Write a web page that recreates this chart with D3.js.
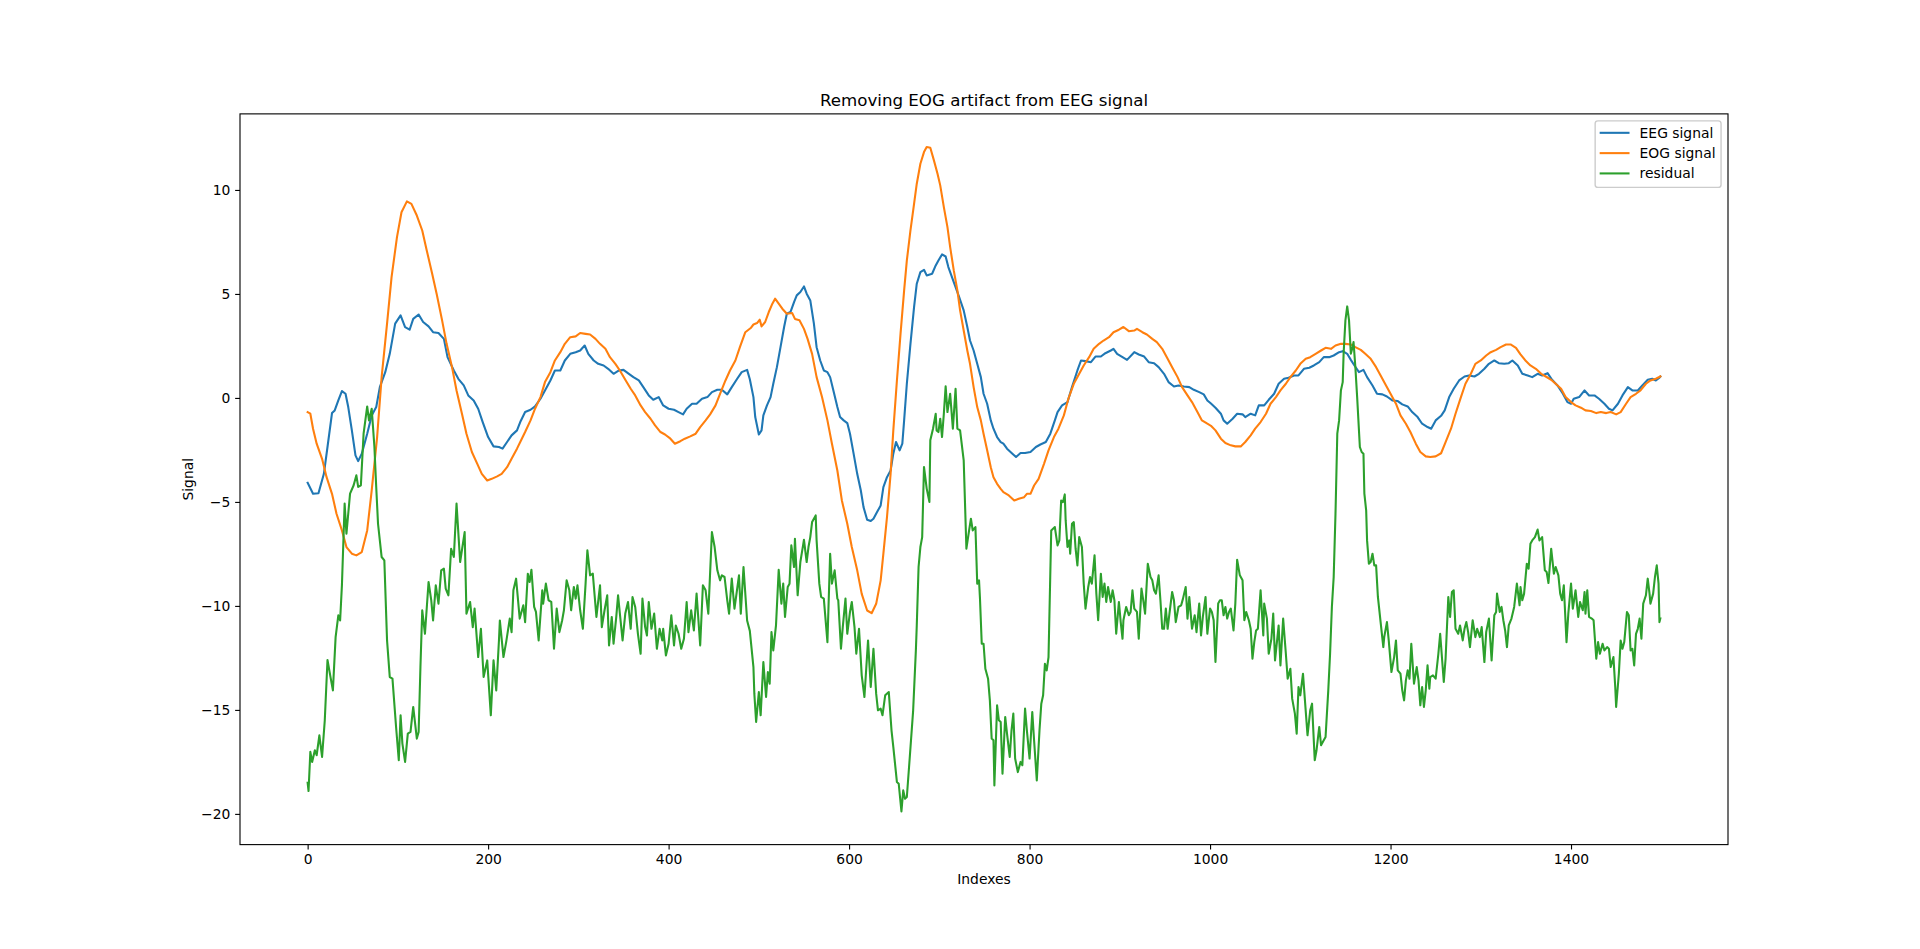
<!DOCTYPE html>
<html>
<head>
<meta charset="utf-8">
<script src="https://cdn.jsdelivr.net/npm/d3@7"></script>
<style>
  html, body { margin: 0; padding: 0; background: #ffffff; }
  svg { display: block; }
  text { font-family: "DejaVu Sans", sans-serif; fill: #000; }
</style>
</head>
<body>
<svg id="chart" width="1920" height="949"></svg>
<script>
// ---------------- data ----------------
const chartTitle = "Removing EOG artifact from EEG signal";
const xLabel = "Indexes";
const yLabel = "Signal";
const seriesNames = ["EEG signal", "EOG signal", "residual"];
const seriesColors = ["#1f77b4", "#ff7f0e", "#2ca02c"];
const xTicks = [0, 200, 400, 600, 800, 1000, 1200, 1400];
const yTicks = [-20, -15, -10, -5, 0, 5, 10];

// [index, value]
const eegSignal = [[0,-4.08],[6,-4.61],[12,-4.58],[18,-3.65],[22,-2.36],[27,-0.73],[30,-0.6],[34,-0.12],[38,0.33],[42,0.2],[45,-0.44],[49,-1.56],[53,-2.76],[56,-3.04],[60,-2.68],[66,-1.72],[71,-0.84],[76,-0.44],[80,0.52],[86,1.24],[91,2.12],[97,3.57],[103,3.97],[108,3.4],[113,3.28],[117,3.8],[123,4.01],[128,3.65],[134,3.44],[139,3.16],[145,3.12],[151,2.84],[155,1.96],[162,1.32],[167,0.92],[173,0.6],[178,0.12],[184,-0.12],[189,-0.52],[194,-1.16],[200,-1.88],[206,-2.33],[212,-2.36],[216,-2.44],[221,-2.12],[226,-1.8],[232,-1.56],[236,-1.12],[241,-0.68],[247,-0.57],[252,-0.41],[258,-0.04],[263,0.36],[269,0.84],[274,1.32],[280,1.32],[285,1.8],[291,2.12],[297,2.2],[302,2.28],[307,2.52],[311,2.12],[317,1.8],[322,1.64],[328,1.56],[333,1.4],[339,1.16],[345,1.32],[350,1.35],[356,1.16],[361,1.0],[367,0.84],[372,0.52],[378,0.12],[383,-0.09],[389,0.04],[394,-0.36],[400,-0.52],[406,-0.57],[411,-0.68],[416,-0.79],[420,-0.52],[426,-0.28],[431,-0.28],[437,-0.04],[443,0.04],[448,0.28],[454,0.39],[459,0.39],[465,0.17],[470,0.52],[476,0.92],[481,1.24],[487,1.35],[490,0.9],[494,0.04],[496,-0.92],[500,-1.76],[503,-1.56],[505,-0.84],[509,-0.36],[513,0.04],[516,0.68],[520,1.48],[524,2.44],[528,3.41],[531,4.05],[535,4.13],[539,4.61],[542,4.93],[546,5.09],[550,5.36],[553,5.01],[557,4.69],[561,3.57],[564,2.44],[568,1.8],[572,1.32],[576,1.24],[579,1.0],[583,0.28],[587,-0.44],[590,-0.92],[594,-1.08],[598,-1.21],[601,-1.72],[605,-2.68],[609,-3.65],[613,-4.45],[616,-5.25],[620,-5.86],[624,-5.92],[627,-5.81],[631,-5.49],[635,-5.17],[638,-4.29],[642,-3.81],[646,-3.49],[649,-2.68],[652,-2.12],[656,-2.52],[659,-2.2],[661,-1.08],[664,0.68],[668,2.6],[672,4.37],[675,5.49],[679,6.05],[683,6.16],[686,5.89],[692,5.97],[696,6.37],[699,6.61],[703,6.9],[707,6.8],[710,6.29],[714,5.81],[718,5.33],[722,4.85],[727,4.21],[731,3.41],[734,2.76],[738,2.28],[742,1.64],[746,1.0],[749,0.2],[753,-0.28],[757,-1.08],[760,-1.48],[764,-1.88],[768,-2.12],[771,-2.2],[775,-2.44],[781,-2.68],[785,-2.84],[790,-2.65],[795,-2.65],[801,-2.6],[807,-2.36],[812,-2.24],[818,-2.12],[823,-1.72],[828,-1.08],[831,-0.68],[836,-0.36],[842,-0.2],[847,0.52],[853,1.32],[857,1.8],[862,1.77],[868,1.72],[873,1.99],[879,1.99],[884,2.15],[890,2.28],[893,2.36],[897,2.12],[903,1.96],[908,1.83],[916,2.2],[921,2.09],[927,1.99],[932,1.72],[938,1.67],[943,1.48],[949,1.16],[954,0.76],[960,0.55],[965,0.6],[971,0.55],[977,0.52],[982,0.39],[988,0.28],[993,0.17],[997,-0.12],[1001,-0.27],[1006,-0.47],[1012,-0.76],[1015,-1.08],[1019,-1.24],[1025,-1.0],[1030,-0.76],[1036,-0.79],[1039,-0.92],[1045,-0.76],[1050,-0.84],[1054,-0.36],[1060,-0.36],[1065,-0.09],[1071,0.2],[1076,0.68],[1082,0.92],[1087,0.97],[1093,1.08],[1098,1.08],[1104,1.4],[1110,1.45],[1115,1.56],[1121,1.72],[1126,1.96],[1132,1.96],[1137,2.04],[1143,2.2],[1147,2.25],[1152,2.12],[1156,1.83],[1160,1.56],[1165,1.24],[1170,1.35],[1174,1.0],[1180,0.6],[1185,0.2],[1191,0.17],[1196,0.07],[1202,-0.12],[1208,-0.15],[1213,-0.31],[1219,-0.41],[1224,-0.68],[1230,-0.92],[1235,-1.24],[1241,-1.4],[1245,-1.48],[1250,-1.08],[1256,-0.86],[1260,-0.6],[1265,0.04],[1270,0.44],[1276,0.84],[1282,1.03],[1287,1.08],[1293,1.03],[1298,1.16],[1304,1.4],[1309,1.64],[1315,1.8],[1320,1.67],[1326,1.64],[1331,1.67],[1335,1.8],[1341,1.56],[1346,1.16],[1352,1.08],[1357,1.0],[1363,1.16],[1368,1.08],[1374,1.19],[1379,0.87],[1385,0.6],[1391,0.2],[1396,-0.2],[1400,-0.28],[1403,-0.04],[1409,0.04],[1415,0.36],[1420,0.12],[1426,0.12],[1431,-0.04],[1437,-0.28],[1442,-0.52],[1446,-0.6],[1452,-0.28],[1457,0.12],[1463,0.52],[1468,0.36],[1474,0.36],[1479,0.6],[1485,0.87],[1490,0.92],[1494,0.84],[1498,0.97],[1499,1.03]];

const eogSignal = [[0,-0.68],[3,-0.76],[6,-1.48],[10,-2.2],[16,-2.93],[21,-3.81],[27,-4.61],[32,-5.57],[38,-6.37],[43,-7.17],[49,-7.49],[54,-7.57],[60,-7.41],[66,-6.37],[71,-4.45],[77,-1.88],[82,1.0],[88,3.57],[93,5.81],[99,7.73],[104,8.93],[110,9.45],[115,9.33],[121,8.77],[127,8.05],[132,7.09],[138,5.97],[143,5.0],[149,3.73],[154,2.6],[160,1.48],[165,0.36],[171,-0.76],[176,-1.72],[182,-2.6],[188,-3.17],[193,-3.65],[199,-3.97],[204,-3.89],[210,-3.77],[215,-3.65],[221,-3.33],[226,-2.93],[232,-2.44],[236,-2.08],[241,-1.64],[247,-1.08],[252,-0.52],[258,0.04],[263,0.76],[269,1.24],[274,1.8],[280,2.2],[285,2.6],[291,2.92],[297,2.96],[302,3.12],[308,3.08],[313,3.05],[319,2.84],[324,2.6],[330,2.36],[335,1.96],[341,1.64],[346,1.32],[352,0.87],[358,0.44],[363,0.12],[369,-0.36],[374,-0.68],[380,-1.0],[385,-1.32],[391,-1.64],[396,-1.76],[402,-1.96],[407,-2.2],[413,-2.08],[418,-1.96],[424,-1.85],[430,-1.72],[435,-1.4],[441,-1.08],[446,-0.79],[452,-0.36],[457,0.2],[463,0.84],[468,1.32],[474,1.8],[479,2.44],[485,3.16],[491,3.36],[494,3.53],[498,3.6],[501,3.76],[503,3.44],[507,3.65],[511,4.13],[515,4.53],[518,4.77],[522,4.53],[526,4.29],[531,4.05],[537,4.08],[540,3.8],[545,3.73],[550,3.32],[554,2.84],[559,2.12],[564,1.0],[570,0.04],[576,-1.08],[581,-2.2],[587,-3.49],[592,-4.93],[598,-6.05],[603,-7.17],[609,-8.29],[614,-9.42],[620,-10.22],[625,-10.35],[630,-9.9],[635,-8.77],[638,-7.49],[642,-5.73],[646,-3.65],[649,-1.56],[653,0.84],[657,3.08],[661,5.17],[664,6.61],[668,8.05],[672,9.33],[675,10.3],[679,11.26],[683,11.82],[686,12.06],[690,12.03],[694,11.42],[698,10.78],[701,10.22],[705,9.17],[709,8.21],[712,7.25],[716,6.13],[720,5.17],[723,4.21],[727,3.24],[731,2.28],[734,1.64],[738,0.52],[742,-0.44],[746,-1.08],[749,-1.72],[753,-2.52],[757,-3.33],[760,-3.81],[764,-4.13],[768,-4.37],[771,-4.53],[777,-4.69],[783,-4.93],[788,-4.85],[794,-4.77],[797,-4.61],[801,-4.61],[805,-4.21],[810,-3.89],[816,-3.17],[821,-2.52],[827,-1.88],[832,-1.48],[838,-0.84],[843,-0.04],[849,0.68],[855,1.16],[860,1.56],[866,1.96],[871,2.36],[877,2.6],[882,2.76],[888,2.92],[893,3.16],[899,3.28],[904,3.41],[910,3.21],[916,3.24],[919,3.32],[925,3.16],[930,3.05],[936,2.84],[941,2.68],[947,2.36],[953,1.88],[958,1.48],[964,1.0],[969,0.52],[975,0.12],[980,-0.2],[986,-0.68],[991,-1.08],[997,-1.24],[1001,-1.34],[1006,-1.56],[1012,-1.96],[1017,-2.17],[1023,-2.28],[1028,-2.33],[1034,-2.33],[1039,-2.12],[1045,-1.8],[1050,-1.48],[1056,-1.16],[1062,-0.76],[1067,-0.28],[1073,0.04],[1078,0.36],[1084,0.68],[1089,1.0],[1095,1.32],[1100,1.64],[1106,1.88],[1111,1.96],[1117,2.12],[1123,2.28],[1128,2.41],[1134,2.36],[1139,2.52],[1145,2.6],[1150,2.6],[1156,2.57],[1161,2.44],[1167,2.31],[1172,2.12],[1178,1.88],[1184,1.48],[1189,1.08],[1195,0.6],[1200,0.2],[1206,-0.28],[1211,-0.84],[1217,-1.24],[1222,-1.64],[1228,-2.2],[1233,-2.6],[1239,-2.81],[1244,-2.84],[1250,-2.81],[1256,-2.66],[1261,-2.12],[1267,-1.48],[1272,-0.76],[1278,0.04],[1283,0.68],[1289,1.16],[1294,1.64],[1300,1.8],[1306,2.04],[1311,2.2],[1317,2.31],[1322,2.44],[1328,2.57],[1333,2.57],[1339,2.41],[1344,2.09],[1350,1.77],[1355,1.56],[1361,1.4],[1367,1.16],[1372,1.03],[1378,0.87],[1383,0.68],[1389,0.44],[1394,0.04],[1400,-0.2],[1405,-0.36],[1411,-0.47],[1416,-0.6],[1422,-0.63],[1428,-0.73],[1433,-0.68],[1439,-0.73],[1444,-0.68],[1450,-0.79],[1455,-0.68],[1461,-0.28],[1466,0.04],[1472,0.2],[1477,0.36],[1483,0.68],[1488,0.84],[1494,0.92],[1499,1.03]];

const residualSignal = [[0,-18.5],[1,-18.9],[3,-17.02],[5,-17.5],[8,-16.94],[10,-17.18],[13,-16.22],[16,-17.26],[19,-15.5],[22,-12.6],[25,-13.34],[28,-14.06],[31,-11.5],[34,-10.45],[36,-10.7],[38,-9.0],[41,-5.08],[43,-6.53],[47,-4.6],[51,-4.2],[54,-3.72],[56,-4.28],[59,-4.2],[62,-1.72],[66,-0.41],[68,-1.08],[71,-0.52],[74,-2.36],[76,-4.28],[78,-6.05],[82,-7.65],[85,-7.81],[88,-11.66],[91,-13.42],[94,-13.5],[98,-15.82],[101,-17.42],[103,-15.26],[105,-16.62],[108,-17.5],[111,-16.14],[114,-16.06],[117,-14.86],[121,-16.38],[123,-16.06],[125,-12.94],[127,-10.21],[130,-11.34],[134,-8.85],[137,-9.73],[139,-10.7],[142,-9.01],[145,-9.89],[148,-8.29],[151,-8.21],[153,-9.17],[156,-9.49],[159,-7.25],[162,-7.65],[165,-5.08],[169,-7.89],[174,-6.45],[176,-10.37],[180,-9.81],[183,-11.02],[185,-10.13],[189,-12.46],[192,-11.1],[195,-13.42],[199,-12.62],[203,-15.26],[206,-12.62],[209,-14.06],[212,-11.66],[213,-10.7],[217,-12.46],[220,-11.74],[224,-10.61],[226,-11.26],[228,-9.25],[231,-8.69],[235,-10.61],[239,-9.97],[241,-10.78],[244,-8.45],[246,-8.85],[248,-8.26],[251,-10.05],[253,-10.29],[256,-11.66],[260,-9.25],[261,-9.89],[264,-8.93],[267,-9.73],[270,-9.81],[273,-12.06],[276,-10.13],[279,-11.26],[282,-10.7],[284,-10.21],[287,-8.77],[290,-9.25],[292,-10.21],[295,-9.09],[297,-9.65],[299,-9.01],[302,-10.21],[305,-11.1],[308,-8.93],[310,-7.33],[313,-8.53],[316,-8.45],[320,-10.53],[324,-9.01],[326,-11.02],[329,-10.21],[332,-9.49],[334,-11.9],[337,-10.53],[339,-11.82],[342,-10.53],[344,-9.49],[346,-10.37],[349,-11.66],[352,-10.37],[355,-9.81],[358,-11.1],[360,-9.57],[363,-10.05],[366,-11.34],[369,-12.3],[371,-9.65],[374,-11.02],[376,-11.42],[378,-9.81],[381,-11.1],[384,-10.37],[387,-12.06],[390,-11.1],[393,-11.66],[394,-11.1],[397,-12.38],[400,-11.82],[403,-10.45],[406,-11.9],[408,-10.94],[411,-11.34],[414,-12.06],[417,-11.58],[420,-9.81],[422,-11.26],[425,-10.21],[428,-11.18],[431,-9.41],[435,-11.9],[438,-9.01],[441,-9.25],[444,-10.37],[448,-6.45],[451,-7.17],[454,-8.29],[457,-8.77],[459,-8.53],[462,-8.61],[465,-9.73],[467,-10.37],[470,-8.69],[473,-10.13],[478,-8.53],[480,-10.37],[483,-8.13],[487,-10.7],[490,-11.2],[494,-12.94],[495,-14.22],[497,-15.58],[500,-14.14],[502,-15.26],[505,-12.7],[508,-14.38],[510,-13.18],[512,-13.74],[514,-11.26],[516,-12.14],[519,-10.94],[522,-8.26],[525,-9.89],[527,-8.93],[529,-10.53],[532,-9.09],[534,-8.93],[536,-7.09],[539,-8.13],[540,-6.77],[543,-9.49],[546,-7.89],[549,-7.09],[550,-6.82],[553,-7.89],[555,-7.17],[557,-6.69],[559,-5.97],[563,-5.65],[564,-6.85],[567,-8.93],[569,-9.57],[572,-9.65],[576,-11.74],[579,-7.49],[581,-8.93],[584,-8.29],[587,-9.65],[588,-9.73],[591,-12.06],[593,-11.02],[596,-9.65],[598,-11.34],[601,-10.29],[603,-9.81],[606,-11.02],[608,-12.3],[611,-11.1],[614,-13.34],[617,-14.38],[621,-11.66],[624,-13.9],[627,-12.06],[630,-14.22],[632,-15.02],[635,-14.94],[637,-15.26],[640,-14.3],[644,-14.14],[647,-15.98],[649,-16.78],[653,-18.47],[655,-18.55],[658,-19.88],[660,-18.87],[662,-19.27],[664,-19.19],[667,-17.42],[671,-15.02],[674,-12.14],[675,-10.94],[677,-8.13],[679,-7.17],[681,-6.69],[683,-3.32],[686,-4.36],[689,-5.0],[690,-2.04],[693,-1.48],[696,-0.76],[697,-1.56],[699,-1.64],[701,-1.0],[703,-1.88],[705,-0.76],[707,0.56],[709,-0.68],[712,0.2],[715,-1.48],[718,0.44],[720,-1.48],[723,-1.56],[727,-3.0],[730,-7.25],[733,-6.37],[735,-5.81],[737,-6.37],[740,-6.21],[742,-8.93],[744,-8.77],[745,-9.6],[747,-11.82],[749,-11.82],[751,-13.02],[754,-13.5],[756,-14.54],[758,-16.38],[760,-16.46],[761,-18.63],[764,-14.78],[766,-15.5],[768,-15.58],[770,-18.07],[773,-15.34],[775,-16.14],[778,-17.26],[780,-15.98],[782,-15.18],[784,-17.34],[787,-17.99],[790,-17.5],[792,-17.66],[795,-14.94],[797,-15.98],[800,-17.34],[803,-15.1],[805,-16.46],[808,-18.39],[811,-15.98],[813,-14.7],[815,-14.3],[817,-12.78],[819,-13.1],[821,-12.46],[824,-6.37],[828,-6.21],[831,-7.09],[833,-6.85],[835,-4.93],[837,-5.01],[839,-4.64],[840,-5.89],[842,-7.17],[844,-6.85],[845,-7.49],[847,-6.05],[849,-5.97],[851,-7.25],[853,-8.05],[855,-6.69],[858,-7.17],[860,-8.93],[862,-10.13],[865,-9.09],[867,-8.61],[869,-8.93],[872,-7.57],[874,-9.41],[876,-10.69],[879,-8.45],[881,-9.57],[883,-8.93],[885,-9.81],[887,-9.09],[890,-9.81],[892,-9.25],[894,-9.73],[896,-11.34],[899,-9.81],[901,-10.78],[903,-11.58],[904,-10.69],[907,-10.05],[910,-10.45],[912,-10.29],[914,-9.25],[916,-10.13],[919,-10.29],[921,-11.58],[924,-9.17],[926,-9.73],[928,-10.37],[931,-7.97],[934,-8.61],[936,-8.77],[938,-9.25],[940,-9.41],[943,-8.53],[945,-9.73],[947,-11.1],[949,-11.1],[951,-10.13],[953,-11.1],[955,-10.37],[958,-9.33],[960,-9.73],[962,-10.78],[965,-10.05],[968,-9.97],[970,-9.65],[973,-9.09],[975,-10.61],[977,-9.57],[980,-11.1],[983,-10.45],[985,-11.26],[988,-9.89],[990,-11.42],[992,-10.53],[995,-9.57],[997,-11.34],[1000,-10.13],[1002,-10.29],[1004,-10.69],[1006,-12.7],[1009,-9.89],[1011,-9.73],[1013,-9.73],[1015,-10.45],[1017,-10.05],[1019,-10.61],[1021,-10.29],[1023,-10.13],[1026,-11.18],[1028,-9.89],[1030,-7.78],[1033,-8.53],[1036,-8.77],[1038,-10.69],[1040,-10.29],[1043,-10.69],[1045,-11.1],[1047,-12.54],[1049,-11.74],[1051,-11.18],[1053,-11.1],[1056,-9.25],[1059,-11.42],[1060,-9.89],[1063,-10.61],[1065,-12.3],[1068,-11.58],[1070,-10.37],[1072,-12.62],[1076,-10.94],[1078,-12.86],[1081,-10.61],[1084,-12.3],[1086,-13.5],[1089,-13.02],[1091,-14.46],[1094,-15.18],[1096,-16.14],[1098,-13.9],[1100,-14.3],[1103,-13.26],[1105,-14.46],[1108,-16.22],[1111,-15.02],[1113,-14.7],[1116,-17.42],[1118,-16.94],[1121,-15.82],[1123,-16.7],[1126,-16.46],[1128,-16.3],[1131,-14.06],[1133,-12.3],[1135,-10.05],[1137,-8.61],[1139,-5.57],[1141,-1.72],[1143,-1.08],[1145,0.36],[1147,0.76],[1148,2.13],[1150,3.73],[1152,4.4],[1154,3.73],[1156,2.13],[1158,2.45],[1159,2.69],[1161,1.49],[1163,0.04],[1166,-2.36],[1168,-2.6],[1170,-2.68],[1171,-4.6],[1173,-5.41],[1174,-6.85],[1176,-7.97],[1178,-7.89],[1180,-7.49],[1182,-8.05],[1184,-8.05],[1186,-9.57],[1189,-10.78],[1192,-11.98],[1193,-11.5],[1196,-10.78],[1198,-11.66],[1201,-13.18],[1204,-12.46],[1206,-11.66],[1208,-13.1],[1211,-13.26],[1213,-14.06],[1215,-14.54],[1217,-13.58],[1219,-13.1],[1221,-13.5],[1223,-11.82],[1226,-13.74],[1229,-12.94],[1231,-13.58],[1233,-14.78],[1235,-13.9],[1237,-14.86],[1239,-14.06],[1241,-12.86],[1243,-13.98],[1244,-13.42],[1247,-13.34],[1250,-13.5],[1253,-12.3],[1255,-11.34],[1259,-13.66],[1261,-12.54],[1264,-9.57],[1266,-10.53],[1268,-9.33],[1270,-9.25],[1272,-11.1],[1275,-11.34],[1277,-10.94],[1280,-11.66],[1282,-11.1],[1284,-10.78],[1286,-11.26],[1288,-11.98],[1291,-10.69],[1294,-11.5],[1296,-11.1],[1299,-11.5],[1301,-11.02],[1304,-12.7],[1306,-11.26],[1309,-10.61],[1312,-12.62],[1315,-10.45],[1317,-10.29],[1318,-9.41],[1321,-10.29],[1323,-10.05],[1325,-10.69],[1327,-11.18],[1329,-11.98],[1331,-10.94],[1334,-10.61],[1337,-10.05],[1340,-8.93],[1343,-9.97],[1344,-9.09],[1346,-9.73],[1348,-9.41],[1351,-7.97],[1353,-8.21],[1355,-7.01],[1357,-6.85],[1360,-6.69],[1363,-6.33],[1365,-6.85],[1368,-6.69],[1371,-8.29],[1373,-8.37],[1375,-8.9],[1378,-7.25],[1381,-8.45],[1383,-8.13],[1386,-8.53],[1388,-9.41],[1390,-9.73],[1392,-9.01],[1395,-11.74],[1397,-10.37],[1400,-8.93],[1402,-10.13],[1405,-9.25],[1408,-10.53],[1410,-9.81],[1413,-10.21],[1415,-9.33],[1416,-10.37],[1418,-9.25],[1420,-10.53],[1423,-10.61],[1425,-10.69],[1428,-12.54],[1430,-11.74],[1432,-12.3],[1435,-11.82],[1437,-12.14],[1440,-11.98],[1442,-12.06],[1444,-12.94],[1447,-12.46],[1449,-13.9],[1450,-14.86],[1453,-13.26],[1455,-11.66],[1457,-12.06],[1459,-11.74],[1462,-10.29],[1464,-10.45],[1466,-12.14],[1468,-12.06],[1470,-12.86],[1472,-11.34],[1474,-11.1],[1476,-10.61],[1478,-11.58],[1480,-9.89],[1483,-9.49],[1485,-8.69],[1487,-9.41],[1488,-9.89],[1491,-9.41],[1493,-8.61],[1495,-8.05],[1497,-8.93],[1498,-10.78],[1499,-10.6]];

const allSeries = [eegSignal, eogSignal, residualSignal];

// ---------------- layout (matplotlib-like defaults) ----------------
const W = 1920, H = 949;
const plotL = 0.125 * W, plotR = 0.9 * W;
const plotT = (1 - 0.88) * H, plotB = (1 - 0.11) * H;
const pt = 100 / 72;           // px per point at 100 dpi
const fs = 10 * pt;            // base font size
const tickLen = 3.5 * pt, tickPad = 3.5 * pt;

const svg = d3.select("#chart");

const allPts = allSeries.flat();
const xExt = d3.extent(allPts, d => d[0]);
const yExt = d3.extent(allPts, d => d[1]);
const xm = (xExt[1] - xExt[0]) * 0.05, ym = (yExt[1] - yExt[0]) * 0.05;

const x = d3.scaleLinear().domain([xExt[0] - xm, xExt[1] + xm]).range([plotL, plotR]);
const y = d3.scaleLinear().domain([yExt[0] - ym, yExt[1] + ym]).range([plotB, plotT]);

svg.append("rect").attr("width", W).attr("height", H).attr("fill", "#fff");

svg.append("defs").append("clipPath").attr("id", "clip")
  .append("rect").attr("x", plotL).attr("y", plotT)
  .attr("width", plotR - plotL).attr("height", plotB - plotT);

// lines
const line = d3.line().x(d => x(d[0])).y(d => y(d[1]));
const lg = svg.append("g").attr("clip-path", "url(#clip)");
allSeries.forEach((s, i) => {
  lg.append("path").datum(s)
    .attr("d", line)
    .attr("fill", "none")
    .attr("stroke", seriesColors[i])
    .attr("stroke-width", 1.5 * pt)
    .attr("stroke-linejoin", "round")
    .attr("stroke-linecap", "square");
});

// axes
const fmt = d3.format("d");
const xAxis = d3.axisBottom(x).tickValues(xTicks).tickFormat(fmt)
  .tickSize(tickLen).tickPadding(tickPad).tickSizeOuter(0);
const yAxis = d3.axisLeft(y).tickValues(yTicks).tickFormat(fmt)
  .tickSize(tickLen).tickPadding(tickPad).tickSizeOuter(0);

const gx = svg.append("g").attr("transform", `translate(0,${plotB})`).call(xAxis);
const gy = svg.append("g").attr("transform", `translate(${plotL},0)`).call(yAxis);
[gx, gy].forEach(g => {
  g.select(".domain").remove();
  g.selectAll(".tick line").attr("stroke", "#000").attr("stroke-width", 0.8 * pt);
  g.selectAll(".tick text").attr("font-family", "DejaVu Sans").attr("font-size", fs).attr("fill", "#000");
});

// spines
svg.append("rect")
  .attr("x", plotL).attr("y", plotT)
  .attr("width", plotR - plotL).attr("height", plotB - plotT)
  .attr("fill", "none").attr("stroke", "#000").attr("stroke-width", 0.8 * pt);

// title & labels
svg.append("text")
  .attr("x", (plotL + plotR) / 2).attr("y", plotT - 6 * pt)
  .attr("text-anchor", "middle").attr("font-size", 12 * pt)
  .text(chartTitle);

svg.append("text")
  .attr("x", (plotL + plotR) / 2).attr("y", 884)
  .attr("text-anchor", "middle").attr("font-size", fs)
  .text(xLabel);

svg.append("text")
  .attr("transform", `translate(192.6,${(plotT + plotB) / 2}) rotate(-90)`)
  .attr("text-anchor", "middle").attr("font-size", fs)
  .text(yLabel);

// legend (upper right)
const borderPad = 0.4 * fs, handleLen = 2 * fs, handlePad = 0.8 * fs;
const axPad = 0.5 * fs, rowH = 20.3;
const legG = svg.append("g");
const legFrame = legG.append("rect");
const texts = seriesNames.map((n, i) => legG.append("text")
  .attr("font-size", fs).attr("dy", "0.36em").text(n));
const maxW = d3.max(texts, t => t.node().getComputedTextLength());
const legW = borderPad * 2 + handleLen + handlePad + maxW;
const legR = plotR - axPad, legT = plotT + axPad;
const firstRow = 12;
const legH = firstRow + rowH * (seriesNames.length - 1) + 14;
const legL = legR - legW;
legFrame.attr("x", legL).attr("y", legT).attr("width", legW).attr("height", legH)
  .attr("rx", 0.2 * fs).attr("ry", 0.2 * fs)
  .attr("fill", "rgba(255,255,255,0.8)").attr("stroke", "#cccccc").attr("stroke-width", 1 * pt);
seriesNames.forEach((n, i) => {
  const cy = legT + firstRow + rowH * i;
  legG.append("line")
    .attr("x1", legL + borderPad).attr("x2", legL + borderPad + handleLen)
    .attr("y1", cy).attr("y2", cy)
    .attr("stroke", seriesColors[i]).attr("stroke-width", 1.5 * pt)
    .attr("stroke-linecap", "square");
  texts[i].attr("x", legL + borderPad + handleLen + handlePad).attr("y", cy);
});
</script>
</body>
</html>
